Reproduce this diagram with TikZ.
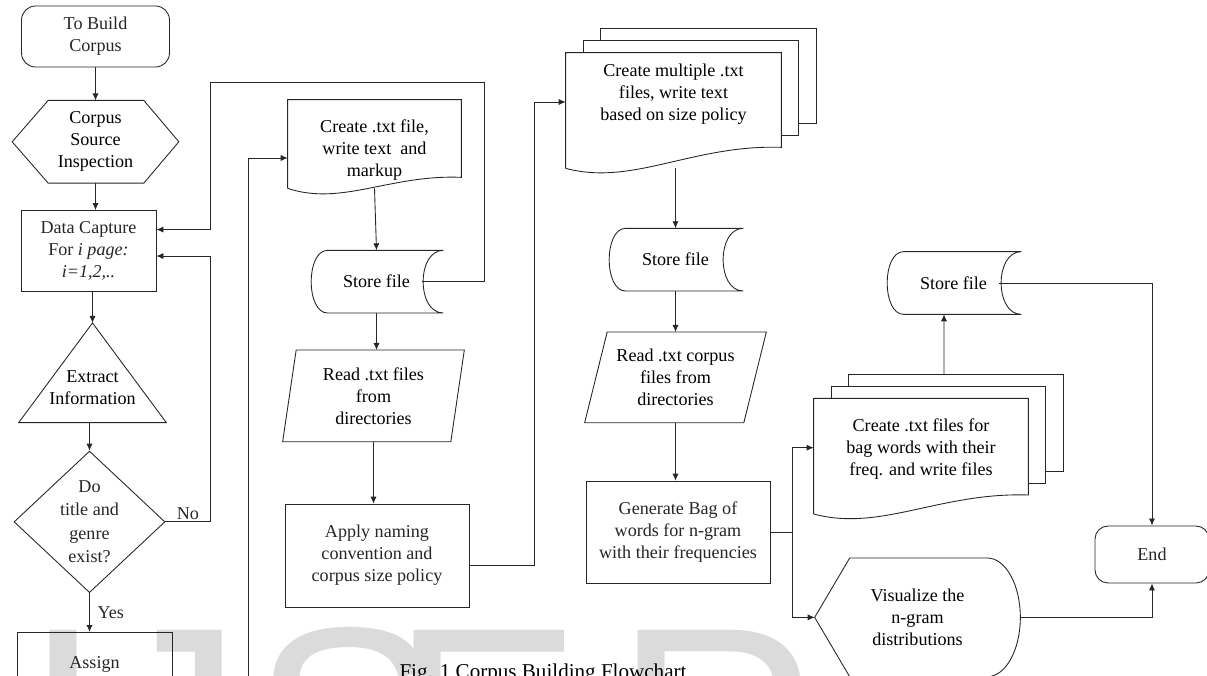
\documentclass[tikz,border=0pt]{standalone}
\usepackage{fontspec}
\setmainfont{Liberation Serif}
\newfontfamily\wmfont{Liberation Sans}
\usetikzlibrary{
    positioning,     % For relative node placement (below=of, etc.)
    arrows.meta,     % For arrow tip styles like Latex
    shapes.geometric,% For the diamond
    calc             % For coordinate calculations ($(...)+(...)$)
}

% Outlines drawn round a plain (undrawn) box node, in pixel units
\newcommand{\prepoutline}[1]{% hexagon
    \draw[flow_line] (#1.west) -- ($(#1.north west)+(36,0)$) -- ($(#1.north east)+(-35,0)$)
        -- (#1.east) -- ($(#1.south east)+(-35,0)$) -- ($(#1.south west)+(36,0)$) -- cycle;}
\newcommand{\triangleoutline}[1]{%
    \draw[flow_line] (#1.south west) -- (#1.north) -- (#1.south east) -- cycle;}
\newcommand{\paraoutline}[2]{% node, slant
    \draw[flow_line] ($(#1.north west)+(#2,0)$) -- (#1.north east)
        -- ($(#1.south east)+(-#2,0)$) -- (#1.south west) -- cycle;}
\newcommand{\docoutline}[2]{% node, rise of the right bottom corner
    \draw[flow_line] (#1.south west) -- (#1.north west) -- (#1.north east)
        -- ($(#1.south east)+(0,-#2)$)
        .. controls ($(#1.south east)!0.41!(#1.south west)+(0,-#2-3)$)
        and ($(#1.south west)!0.31!(#1.south east)+(0,18)$) .. (#1.south west);}
\newcommand{\docstack}[2]{% two pages behind a document
    \foreach \k in {1,2} {
        \draw[flow_line] ($(#1.north west)+(17.5*\k,-12*\k+12)$) -- ($(#1.north west)+(17.5*\k,-12*\k)$)
            -- ($(#1.north east)+(17.5*\k,-12*\k)$) -- ($(#1.south east)+(17.5*\k,-#2-12*\k)$)
            -- ($(#1.south east)+(17.5*\k-17.5,-#2-12*\k)$);
    }}
\newcommand{\storeoutline}[1]{% stored data
    \draw[flow_line] ($(#1.north west)+(18,0)$) -- (#1.north east)
        .. controls ($(#1.north east)+(-27,0)$) and ($(#1.south east)+(-27,0)$) .. (#1.south east)
        -- ($(#1.south west)+(18,0)$)
        .. controls ($(#1.south west)+(-4,0)$) and ($(#1.north west)+(-4,0)$) .. ($(#1.north west)+(18,0)$);}
\newcommand{\dispoutline}[1]{% display
    \draw[flow_line] (#1.west) -- ($(#1.north west)+(35,0)$) -- ($(#1.north east)+(-33,0)$)
        .. controls ($(#1.north east)+(-15,0)$) and ($(#1.east)+(0,-33)$) .. (#1.east)
        .. controls ($(#1.east)+(0,33)$) and ($(#1.south east)+(-15,0)$) .. ($(#1.south east)+(-33,0)$)
        -- ($(#1.south west)+(35,0)$) -- cycle;}

\begin{document}
\begin{tikzpicture}[
    x=0.02cm, y=-0.02cm, % one unit is one pixel, y going down
    >={Latex[length=4pt,width=3.5pt]},
    % Styles
    base_text/.style={font=\fontsize{10.3}{12.5}\selectfont, align=center, inner sep=0pt},
    flow_line/.style={line width=0.5pt, black!85},
    proc_box/.style={rectangle, draw, flow_line, base_text},
    term_box/.style={rectangle, draw, flow_line, rounded corners=0.28cm, base_text},
    shape_box/.style={rectangle, base_text}, % outline drawn afterwards
    decision_box/.style={diamond, draw, flow_line, base_text, font=\fontsize{10.3}{13.4}\selectfont},
    arrow/.style={->, flow_line},
    label_text/.style={font=\fontsize{10.3}{12.5}\selectfont, inner sep=1pt}
]
\useasboundingbox (0,0) rectangle (1207,676);
\clip (0,0) rectangle (1207,676);

% --- Watermark and caption ---
\foreach \letter/\xpos [count=\n] in {I/23, J/99, S/251, E/390, R/614}
    \node[font=\wmfont\fontsize{164}{164}\selectfont, text=gray!28, anchor=base west, inner sep=0pt] (wm\n) at (\xpos,828) {\letter};
\node[font=\fontsize{12}{14}\selectfont, anchor=base, inner sep=0pt] (caption) at (543,678) {Fig. 1 Corpus Building Flowchart};

% --- Column 1: Capture ---
\node[term_box, minimum width=2.96cm, minimum height=1.22cm] (start) at (95.5,36.5) {To Build\\Corpus};
\node[shape_box, minimum width=3.32cm, minimum height=1.64cm, below=0.66cm of start] (prep) {Corpus\\Source\\Inspection};
\node[proc_box, minimum width=2.7cm, minimum height=1.62cm, below=0.54cm of prep, xshift=-0.14cm] (capture) {Data Capture\\For \textit{i page:}\\\textit{i=1,2,..}};
\node[shape_box, minimum width=2.94cm, minimum height=1.98cm, below=0.62cm of capture, xshift=0.08cm,
      label={[base_text, yshift=-0.29cm]center:{Extract\\Information}}] (extract) {};
\node[decision_box, minimum width=3.02cm, minimum height=2.8cm, below=0.56cm of extract, xshift=-0.06cm] (decide) {Do\\title and\\genre\\exist?};
\node[proc_box, minimum width=3.1cm, minimum height=1.28cm, below=0.78cm of decide, xshift=0.1cm] (assign) {Assign};
\prepoutline{prep}
\triangleoutline{extract}
% Arrows down the column
\draw[arrow] (start) -- (prep);
\draw[arrow] (prep.south) -- (prep.south |- capture.north);
\draw[arrow] (extract.north |- capture.south) -- (extract.north);
\draw[arrow] (decide.north |- extract.south) -- (decide.north);
\draw[arrow] (decide.south) -- node[right, label_text, xshift=0.12cm] {Yes} (decide.south |- assign.north);
\draw[arrow] (decide.east) -- node[above, label_text] {No} ++(45,0) |- ([yshift=-0.1cm]capture.east);

% --- Column 2: Single file ---
\node[shape_box, minimum width=3.46cm, minimum height=1.76cm,
      label={[base_text, yshift=-0.12cm]center:{Create .txt file,\\write text~ and\\markup}}] (doc1) at (374.5,144) {};
\node[shape_box, minimum width=2.66cm, minimum height=1.24cm, below=1.24cm of doc1, xshift=0.04cm] (store1) {Store file};
\node[shape_box, minimum width=3.62cm, minimum height=1.82cm, below=0.74cm of store1, xshift=-0.06cm] (read1) {Read .txt files\\from\\directories};
\node[proc_box, minimum width=3.68cm, minimum height=2.06cm, below=1.24cm of read1, xshift=0.07cm] (apply) {Apply naming\\convention and\\corpus size policy};
\docoutline{doc1}{11}
\storeoutline{store1}
\paraoutline{read1}{13.5}
\draw[arrow] (doc1.south) -- (store1.north);
\draw[arrow] (store1.south) -- (store1.south |- read1.north);
\draw[arrow] (read1.south) -- (read1.south |- apply.north);
% Loop back to the capture step
\draw[arrow] ([xshift=-0.42cm]store1.east) -- ++(62,0) -- ++(0,-199) -- ++(-274,0) |- ([yshift=0.43cm]capture.east);
% Loop coming from below the picture
\coordinate (loop_in) at (248,690);
\draw[arrow] (loop_in) |- ([yshift=-0.28cm]doc1.west);

% --- Column 3: Multiple files ---
\node[shape_box, minimum width=4.3cm, minimum height=2.3cm,
      label={[base_text, yshift=0.33cm]center:{Create multiple .txt\\files, write text\\based on size policy}}] (mdoc) at (673.5,110.5) {};
\node[shape_box, minimum width=2.7cm, minimum height=1.24cm, below=1.2cm of mdoc, xshift=0.04cm] (store2) {Store file};
\node[shape_box, minimum width=3.62cm, minimum height=1.8cm, below=0.82cm of store2] (read2) {Read .txt corpus\\files from\\directories};
\node[proc_box, minimum width=3.68cm, minimum height=2.04cm, below=1.16cm of read2, xshift=0.05cm] (gen) {Generate Bag of\\words for n-gram\\with their frequencies};
\docstack{mdoc}{21}
\docoutline{mdoc}{21}
\storeoutline{store2}
\paraoutline{read2}{22.5}
\draw[arrow] ([yshift=-0.19cm]apply.east) -- ++(65,0) |- ([yshift=0.17cm]mdoc.west);
\draw[arrow] (store2.north |- mdoc.south) -- (store2.north);
\draw[arrow] (store2.south) -- (read2.north);
\draw[arrow] (read2.south) -- (read2.south |- gen.north);

% --- Column 4: Outputs ---
\node[shape_box, minimum width=2.7cm, minimum height=1.24cm] (store3) at (953.5,283) {Store file};
\node[shape_box, minimum width=4.28cm, minimum height=2.3cm, below=1.68cm of store3, xshift=-0.65cm,
      label={[base_text, yshift=0.15cm]center:{Create .txt files for\\bag words with their\\freq. and write files}}] (bdoc) {};
\node[shape_box, minimum width=4.1cm, minimum height=2.36cm, below=0.88cm of bdoc, xshift=-0.07cm] (vis) {Visualize the\\n-gram\\distributions};
\node[term_box, minimum width=2.28cm, minimum height=1.14cm, rounded corners=0.26cm] (endt) at (1152,554.5) {End};
\storeoutline{store3}
\docstack{bdoc}{19}
\docoutline{bdoc}{19}
\dispoutline{vis}
\draw[arrow] (gen.east) -- ++(22,0) |- ([yshift=0.17cm]bdoc.west);
\draw[arrow] (gen.east) -- ++(22,0) |- (vis.west);
\draw[arrow] ([shift={(23,-24)}]bdoc.north) -- ([xshift=-0.19cm]store3.south);
\draw[arrow] ([xshift=-0.44cm]store3.east) -| (endt.north);
\draw[arrow] (vis.east) -| (endt.south);

\end{tikzpicture}
\end{document}
